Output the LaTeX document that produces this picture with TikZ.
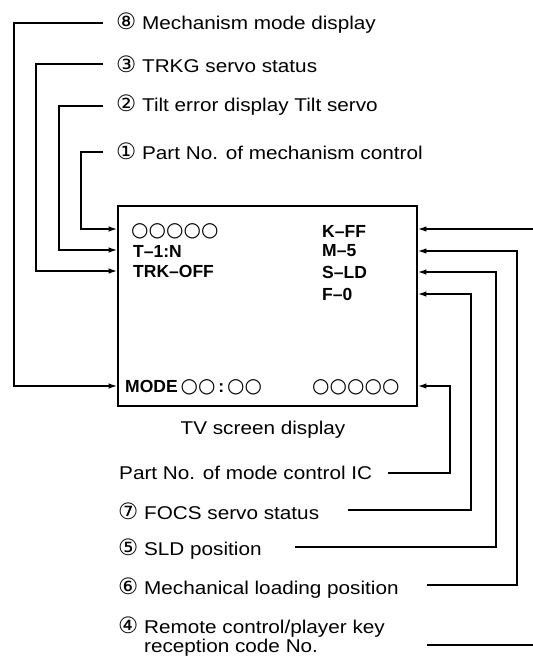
\documentclass[tikz,border=0pt]{standalone}
\usepackage{fontspec}
\setmainfont{Liberation Sans}
\newfontfamily\labfont{Liberation Sans}[FakeStretch=1.12]
\newfontfamily\symfont{DejaVu Sans}
\newcommand{\cnum}[1]{{\symfont\fontsize{22.5}{19}\selectfont #1}}
\usetikzlibrary{arrows.meta,calc}
\begin{document}
\begin{tikzpicture}[x=1pt,y=-1pt,
  wire/.style={line width=1.4pt},
  arr/.style={wire,-{Latex[length=8.5pt,width=5.5pt]}},
  lab/.style={anchor=west,inner sep=0pt,font=\labfont\fontsize{18.5}{19}\selectfont},
  scr/.style={anchor=west,inner sep=0pt,font=\fontsize{17.5}{18}\selectfont\bfseries},
  circ/.style={anchor=west,inner sep=0pt,font=\symfont\fontsize{20}{20}\selectfont},
]
\useasboundingbox (0,0) rectangle (533,657);
\node[draw,line width=1.7pt,minimum width=299pt,minimum height=200pt,inner sep=0pt] (box) at (267.5,306) {};

% top labels
\node[lab] (l8) at (116,23) {\cnum{⑧} Mechanism mode display};
\node[lab] (l3) at (116,64) {\cnum{③} TRKG servo status};
\node[lab] (l2) at (116,105) {\cnum{②} Tilt error display Tilt servo};
\node[lab] (l1) at (116,151) {\cnum{①} Part No. of mechanism control};

% bottom labels
\node[lab,anchor=center] (tv) at (263,430) {TV screen display};
\node[lab] (lp) at (119,473) {Part No. of mode control IC};
\node[lab] (l7) at (118,511) {\cnum{⑦} FOCS servo status};
\node[lab] (l5) at (118,549) {\cnum{⑤} SLD position};
\node[lab] (l6) at (118,588) {\cnum{⑥} Mechanical loading position};
\node[lab,align=left] (l4) at (118,637) {\cnum{④} Remote control/player key\\\hphantom{\cnum{④} }reception code No.};

% screen texts
\node[circ] (c1) at (131,231) {○○○○○};
\node[scr] (s1) at (133,251) {T–1:N};
\node[scr] (s2) at (133,271) {TRK–OFF};
\node[scr] (r1) at (322,231) {K–FF};
\node[scr] (r2) at (322,251) {M–5};
\node[scr] (r3) at (322,272) {S–LD};
\node[scr] (r4) at (322,294) {F–0};
\node[scr] (md) at (125,387) {MODE\,{\symfont\fontsize{20}{20}\selectfont\mdseries ○○}\,:\,{\symfont\fontsize{20}{20}\selectfont\mdseries ○○}};
\node[circ] (c2) at (312,387) {○○○○○};

% free ends
\coordinate (e8) at (103,23);
\coordinate (e3) at (103,64);
\coordinate (e2) at (103,106);
\coordinate (e1) at (103,152);
\coordinate (ek) at (533,229);
\coordinate (em) at (427,585);
\coordinate (es) at (295,547);
\coordinate (ef) at (348,510);
\coordinate (ep) at (388,473);
\coordinate (er1) at (427,645);
\coordinate (er2) at (533,645);

% left connectors
\draw[arr] (e8) -- (14,23) |- (box.west |- 0,386);
\draw[arr] (e3) -- (36,64) |- (box.west |- 0,271);
\draw[arr] (e2) -- (59,106) |- (box.west |- 0,250);
\draw[arr] (e1) -- (81,152) |- (box.west |- 0,229);

% right connectors
\draw[arr] (ek) -- (box.east |- ek);
\draw[arr] (em) -- (517,585) |- (box.east |- 0,251);
\draw[arr] (es) -- (496,547) |- (box.east |- 0,272);
\draw[arr] (ef) -- (471,510) |- (box.east |- 0,294);
\draw[arr] (ep) -- (450,473) |- (box.east |- 0,386);
\draw[wire] (er1) -- (er2);
\end{tikzpicture}
\end{document}
